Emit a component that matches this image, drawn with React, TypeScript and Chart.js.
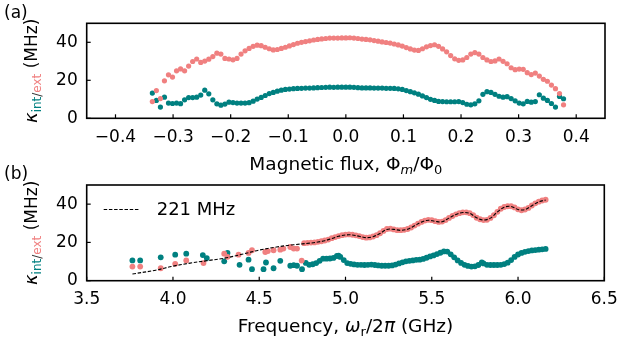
import React, { useEffect, useRef } from 'react';
import { Chart, registerables } from 'chart.js';
Chart.register(...registerables);

const TEAL = '#008080';
const CORAL = '#F08080';
const FONT = '"DejaVu Sans", sans-serif';

const fluxTicks = [-0.4, -0.3, -0.2, -0.1, 0.0, 0.1, 0.2, 0.3, 0.4];
const freqTicks = [3.5, 4.0, 4.5, 5.0, 5.5, 6.0, 6.5];
const kappaTicks = [0, 20, 40];

// Panel (a): magnetic flux sweep
const flux = [
  -0.336, -0.329, -0.322, -0.315, -0.308, -0.301, -0.294, -0.287, -0.280, -0.273,
  -0.266, -0.259, -0.252, -0.245, -0.238, -0.231, -0.224, -0.217, -0.210, -0.203,
  -0.196, -0.189, -0.182, -0.175, -0.168, -0.161, -0.154, -0.147, -0.140, -0.133,
  -0.126, -0.119, -0.112, -0.105, -0.098, -0.091, -0.084, -0.077, -0.070, -0.063,
  -0.056, -0.049, -0.042, -0.035, -0.028, -0.021, -0.014, -0.007, 0.000, 0.007,
  0.014, 0.021, 0.028, 0.035, 0.042, 0.049, 0.056, 0.063, 0.070, 0.077,
  0.084, 0.091, 0.098, 0.105, 0.112, 0.119, 0.126, 0.133, 0.140, 0.147,
  0.154, 0.161, 0.168, 0.175, 0.182, 0.189, 0.196, 0.203, 0.210, 0.217,
  0.224, 0.231, 0.238, 0.245, 0.252, 0.259, 0.266, 0.273, 0.280, 0.287,
  0.294, 0.301, 0.308, 0.315, 0.322, 0.329, 0.336, 0.343, 0.350, 0.357,
  0.364, 0.371, 0.378,
];
const fluxKappaExt = [
  8.8, 14.6, 10.4, 19.7, 22.9, 21.7, 25.0, 26.0, 25.0, 27.5,
  29.9, 31.2, 29.4, 30.1, 31.1, 32.5, 34.3, 33.8, 31.5, 31.2,
  30.8, 31.5, 33.8, 35.5, 36.8, 37.9, 38.5, 38.2, 37.4, 36.6,
  36.0, 36.2, 36.8, 37.4, 38.1, 38.8, 39.5, 40.0, 40.4, 40.8,
  41.2, 41.5, 41.8, 42.0, 42.2, 42.2, 42.2, 42.3, 42.3, 42.4,
  42.2, 42.0, 41.7, 41.5, 41.3, 40.9, 40.6, 40.2, 39.9, 39.6,
  39.1, 38.6, 38.0, 37.2, 36.5, 35.9, 35.7, 36.6, 37.6, 38.3,
  38.7, 37.9, 36.5, 35.0, 33.0, 31.3, 30.5, 30.7, 32.0, 33.8,
  34.6, 33.8, 32.0, 30.7, 29.9, 30.2, 31.2, 30.0, 28.7, 26.6,
  25.6, 25.9, 25.8, 24.0, 23.0, 23.8, 22.2, 20.5, 19.5, 17.5,
  15.6, 13.0, 7.1,
];
const fluxKappaInt = [
  13.3, 9.4, 5.9, 11.1, 8.0, 7.8, 8.0, 7.7, 9.7, 10.9,
  10.9, 11.1, 12.2, 14.8, 12.9, 9.7, 7.6, 6.9, 7.5, 8.5,
  8.3, 8.0, 8.0, 8.0, 8.2, 9.0, 10.1, 11.0, 12.0, 13.0,
  13.6, 14.3, 14.8, 15.2, 15.4, 15.6, 15.7, 15.8, 15.9, 15.9,
  16.0, 16.1, 16.2, 16.3, 16.4, 16.3, 16.4, 16.4, 16.4, 16.4,
  16.3, 16.1, 16.0, 16.0, 16.0, 15.9, 15.9, 15.9, 15.8, 15.8,
  15.7, 15.5, 15.2, 14.6, 14.0, 13.4, 12.7, 11.8, 10.9, 10.0,
  9.4, 8.9, 8.8, 8.7, 8.7, 8.7, 8.8, 8.3, 7.4, 7.1,
  7.6, 9.2, 12.6, 14.0, 13.6, 12.6, 11.6, 11.1, 11.4, 10.4,
  9.2, 8.0, 7.6, 8.9, 8.5, 8.8, 12.4, 10.6, 9.4, 7.8,
  5.9, 11.5, 10.3,
];

// Panel (b): frequency dependence
const freqExt = [
  3.765, 3.81, 3.929, 4.013, 4.077, 4.177, 4.297, 4.316, 4.38, 4.438,
  4.458, 4.535, 4.55, 4.583, 4.622, 4.64, 4.68, 4.70, 4.719, 4.746,
  4.76, 4.78, 4.80, 4.82, 4.84, 4.86, 4.88, 4.90, 4.92, 4.94,
  4.96, 4.98, 5.00, 5.02, 5.04, 5.06, 5.08, 5.10, 5.12, 5.14,
  5.16, 5.18, 5.20, 5.22, 5.24, 5.26, 5.28, 5.30, 5.32, 5.34,
  5.36, 5.38, 5.40, 5.42, 5.44, 5.46, 5.48, 5.50, 5.52, 5.54,
  5.56, 5.58, 5.60, 5.62, 5.64, 5.66, 5.68, 5.70, 5.72, 5.74,
  5.76, 5.78, 5.80, 5.82, 5.84, 5.86, 5.88, 5.90, 5.92, 5.94,
  5.96, 5.98, 6.00, 6.02, 6.04, 6.06, 6.08, 6.10, 6.12, 6.14,
  6.16,
];
const freqKappaExt = [
  7.4, 7.4, 6.5, 8.8, 10.6, 9.2, 14.1, 12.5, 13.6, 14.5,
  15.9, 15.0, 15.5, 15.9, 16.2, 16.8, 17.6, 16.8, 16.8, 10.5,
  19.6, 19.8, 19.9, 20.0, 20.3, 20.6, 21.0, 21.5, 22.2, 22.8,
  23.3, 23.8, 24.1, 24.2, 24.0, 23.7, 23.3, 22.8, 22.5, 22.6,
  23.1, 23.8, 24.8, 26.0, 27.0, 27.2, 26.8, 26.4, 26.4, 26.6,
  27.0, 27.8, 28.8, 29.8, 30.7, 31.4, 31.8, 31.6, 31.1, 30.7,
  30.9, 31.7, 32.8, 33.8, 34.7, 35.3, 35.7, 35.7, 35.3, 34.3,
  32.9, 32.1, 31.7, 31.8, 32.8, 34.2, 36.0, 37.6, 38.5, 38.9,
  38.9, 38.3, 37.3, 36.8, 37.2, 38.0, 39.3, 40.4, 41.3, 41.9,
  42.3,
];
const freqInt = [
  3.765, 3.81, 3.929, 4.013, 4.077, 4.173, 4.196, 4.297, 4.316, 4.386,
  4.438, 4.458, 4.525, 4.539, 4.583, 4.622, 4.68, 4.70, 4.719, 4.748,
  4.77, 4.79, 4.81, 4.83, 4.85, 4.87, 4.89, 4.91, 4.93, 4.95,
  4.96, 4.97, 4.99, 5.01, 5.03, 5.05, 5.07, 5.09, 5.11, 5.13,
  5.15, 5.17, 5.19, 5.21, 5.23, 5.25, 5.27, 5.29, 5.31, 5.33,
  5.35, 5.37, 5.39, 5.41, 5.43, 5.45, 5.47, 5.49, 5.51, 5.53,
  5.55, 5.57, 5.59, 5.61, 5.63, 5.65, 5.67, 5.69, 5.71, 5.73,
  5.75, 5.77, 5.79, 5.80, 5.82, 5.84, 5.86, 5.88, 5.90, 5.92,
  5.94, 5.96, 5.98, 6.00, 6.02, 6.04, 6.06, 6.08, 6.10, 6.12,
  6.14, 6.16,
];
const freqKappaInt = [
  10.6, 10.6, 12.2, 13.6, 14.1, 13.4, 11.8, 10.1, 14.5, 8.3,
  11.0, 6.0, 6.0, 9.5, 6.5, 10.4, 7.8, 8.1, 7.8, 6.0,
  9.3, 8.3, 8.6, 9.2, 10.4, 11.5, 11.5, 11.6, 11.9, 12.9,
  13.1, 12.4, 10.8, 9.2, 8.8, 8.5, 8.3, 8.3, 8.2, 8.3,
  8.4, 8.2, 8.0, 7.8, 7.8, 7.8, 8.0, 8.4, 9.0, 9.6,
  10.1, 10.4, 10.6, 10.9, 11.0, 11.4, 12.0, 12.7, 13.2, 13.9,
  14.6, 15.3, 15.2, 13.8, 12.2, 10.6, 9.3, 8.3, 7.7, 7.4,
  7.5, 8.2, 9.6, 9.0, 8.3, 8.2, 8.2, 8.2, 8.3, 8.7,
  9.4, 10.8, 12.4, 13.7, 14.5, 15.1, 15.5, 15.8, 16.0, 16.2,
  16.4, 16.6,
];
const fitLabel = '221 MHz';
const freqFit = [
  3.765, 3.90, 4.00, 4.10, 4.20, 4.30, 4.40, 4.50, 4.60, 4.70,
  4.80, 4.84, 4.88, 4.92, 4.96, 5.00, 5.04, 5.08, 5.12, 5.16,
  5.20, 5.24, 5.28, 5.32, 5.36, 5.40, 5.44, 5.48, 5.52, 5.56,
  5.60, 5.64, 5.68, 5.72, 5.76, 5.80, 5.84, 5.88, 5.92, 5.96,
  6.00, 6.04, 6.08, 6.12, 6.16,
];
const kappaFit = [
  3.5, 5.5, 7.6, 9.2, 10.5, 11.8, 13.8, 16.0, 17.6, 18.8,
  19.7, 20.2, 20.9, 22.0, 23.2, 23.9, 23.9, 23.2, 22.5, 23.0,
  24.7, 26.8, 26.8, 26.3, 26.9, 28.7, 30.6, 31.6, 31.0, 30.8,
  32.7, 34.6, 35.6, 35.2, 32.9, 31.7, 32.7, 35.9, 38.4, 38.8,
  37.2, 37.1, 39.2, 41.2, 42.2,
];

type Seg = { t: string; size: number; italic?: boolean; color?: string; dy?: number };
const segFont = (s: Seg) => `${s.italic ? 'italic ' : ''}${s.size}px ${FONT}`;
function measureSegs(ctx: CanvasRenderingContext2D, segs: Seg[]) {
  let w = 0;
  segs.forEach((s) => { ctx.font = segFont(s); w += ctx.measureText(s.t).width; });
  return w;
}
function drawSegs(ctx: CanvasRenderingContext2D, segs: Seg[], x: number, y: number) {
  let cx = x;
  segs.forEach((s) => {
    ctx.font = segFont(s);
    ctx.fillStyle = s.color || '#000';
    ctx.fillText(s.t, cx, y + (s.dy || 0));
    cx += ctx.measureText(s.t).width;
  });
}

const FS = 17;
const TFS = 18.5;
const SUB = 12;
const TSUB = 13;

const yTitleSegs: Seg[] = [
  { t: 'κ', size: FS + 1, italic: true },
  { t: 'int', size: SUB, color: TEAL, dy: 3.5 },
  { t: '/', size: SUB, color: '#333', dy: 3.5 },
  { t: 'ext', size: SUB, color: CORAL, dy: 3.5 },
  { t: ' (MHz)', size: FS },
];
const fluxTitleSegs: Seg[] = [
  { t: 'Magnetic flux, Φ', size: TFS },
  { t: 'm', size: TSUB, italic: true, dy: 3.8 },
  { t: '/Φ', size: TFS },
  { t: '0', size: TSUB, dy: 3.8 },
];
const freqTitleSegs: Seg[] = [
  { t: 'Frequency, ', size: TFS },
  { t: 'ω', size: TFS, italic: true },
  { t: 'r', size: TSUB, dy: 3.8 },
  { t: '/2', size: TFS },
  { t: 'π', size: TFS, italic: true },
  { t: ' (GHz)', size: TFS },
];

function makeDecor(panel: string, panelY: number, xTitle: Seg[], xTitleY: number, legend: boolean) {
  return {
    id: 'decor' + panel,
    afterDraw(chart: any) {
      const ctx: CanvasRenderingContext2D = chart.ctx;
      const a = chart.chartArea;
      ctx.save();
      // frame
      ctx.strokeStyle = '#000';
      ctx.lineWidth = 1.6;
      ctx.strokeRect(a.left, a.top, a.right - a.left, a.bottom - a.top);
      // inward ticks
      ctx.lineWidth = 1.2;
      const xs = chart.scales.x;
      xs.ticks.forEach((_: any, i: number) => {
        const px = xs.getPixelForTick(i);
        ctx.beginPath();
        ctx.moveTo(px, a.bottom);
        ctx.lineTo(px, a.bottom - 4);
        ctx.stroke();
      });
      const ys = chart.scales.y;
      ys.ticks.forEach((_: any, i: number) => {
        const py = ys.getPixelForTick(i);
        ctx.beginPath();
        ctx.moveTo(a.left, py);
        ctx.lineTo(a.left + 4, py);
        ctx.stroke();
      });
      ctx.textBaseline = 'alphabetic';
      // panel label
      ctx.font = `${FS}px ${FONT}`;
      ctx.fillStyle = '#000';
      ctx.fillText(panel, 4, panelY);
      // x title
      const wx = measureSegs(ctx, xTitle);
      drawSegs(ctx, xTitle, (a.left + a.right) / 2 - wx / 2, xTitleY);
      // y title
      const wy = measureSegs(ctx, yTitleSegs);
      ctx.save();
      ctx.translate(37, (a.top + a.bottom) / 2);
      ctx.rotate(-Math.PI / 2);
      drawSegs(ctx, yTitleSegs, -wy / 2, 0);
      ctx.restore();
      if (legend) {
        const ds = chart.data.datasets[0];
        const ly = a.top + 24.5;
        ctx.strokeStyle = '#000';
        ctx.lineWidth = 1.1;
        ctx.setLineDash([3.5, 1.7]);
        ctx.beginPath();
        ctx.moveTo(a.left + 17, ly);
        ctx.lineTo(a.left + 53, ly);
        ctx.stroke();
        ctx.setLineDash([]);
        ctx.font = `${FS + 1}px ${FONT}`;
        ctx.fillStyle = '#000';
        ctx.textBaseline = 'middle';
        ctx.fillText(ds.label, a.left + 70, ly + 1);
      }
      ctx.restore();
    },
  };
}

function scaleOpts(ticksArr: number[], min: number, max: number, fmt: (v: number) => string, axis: 'x' | 'y', size: number) {
  return {
    type: 'linear',
    min,
    max,
    grid: { display: false, drawTicks: false },
    border: { display: false },
    afterBuildTicks: (s: any) => { s.ticks = ticksArr.map((v) => ({ value: v })); },
    afterFit: (s: any) => {
      if (axis === 'y') { s.width = size; s.paddingTop = 0; s.paddingBottom = 0; }
      else { s.height = size; s.paddingLeft = 0; s.paddingRight = 0; }
    },
    ticks: {
      autoSkip: false,
      maxRotation: 0,
      minRotation: 0,
      padding: 9,
      color: '#000',
      font: { family: FONT, size: FS },
      callback: (v: any) => fmt(Number(v)),
    },
  };
}

const fmtX = (v: number) => v.toFixed(1).replace('-', '\u2212');
const fmtY = (v: number) => String(Math.round(v));

const pts = (xs: number[], ys: number[]) => xs.map((x, i) => ({ x, y: ys[i] }));

export default function App() {
  const ref1 = useRef<HTMLCanvasElement>(null);
  const ref2 = useRef<HTMLCanvasElement>(null);

  useEffect(() => {
    const dotA = { pointRadius: 2.6, pointBorderWidth: 0, showLine: false };
    const dotB = { pointRadius: 2.9, pointBorderWidth: 0, showLine: false };
    const c1 = new Chart(ref1.current!, {
      type: 'scatter',
      data: {
        datasets: [
          { label: 'ext', data: pts(flux, fluxKappaExt), backgroundColor: CORAL, borderColor: CORAL, order: 1, ...dotA },
          { label: 'int', data: pts(flux, fluxKappaInt), backgroundColor: TEAL, borderColor: TEAL, order: 2, ...dotA },
        ],
      },
      options: {
        animation: false,
        responsive: false,
        devicePixelRatio: 1,
        layout: { padding: { left: 0, right: 14, top: 23.3, bottom: 175 } },
        plugins: { legend: { display: false }, tooltip: { enabled: false } },
        scales: {
          x: scaleOpts(fluxTicks, -0.45, 0.45, fmtX, 'x', 350 - 175 - 118.3),
          y: scaleOpts(kappaTicks, 0, 50, fmtY, 'y', 86.7),
        } as any,
      },
      plugins: [makeDecor('(a)', 18, fluxTitleSegs, 170, false)],
    } as any);

    const c2 = new Chart(ref2.current!, {
      type: 'scatter',
      data: {
        datasets: [
          { label: fitLabel, data: pts(freqFit, kappaFit), borderColor: '#000', borderWidth: 1.1, borderDash: [3.5, 1.7], pointRadius: 0, showLine: true, tension: 0.35, order: 0 },
          { label: 'ext', data: pts(freqExt, freqKappaExt), backgroundColor: CORAL, borderColor: CORAL, order: 1, ...dotB },
          { label: 'int', data: pts(freqInt, freqKappaInt), backgroundColor: TEAL, borderColor: TEAL, order: 2, ...dotB },
        ],
      },
      options: {
        animation: false,
        responsive: false,
        devicePixelRatio: 1,
        layout: { padding: { left: 0, right: 14.7, top: 185, bottom: 0 } },
        plugins: { legend: { display: false }, tooltip: { enabled: false } },
        scales: {
          x: scaleOpts(freqTicks, 3.5, 6.5, fmtX, 'x', 350 - 280.7),
          y: scaleOpts(kappaTicks, 0, 50, fmtY, 'y', 86.7),
        } as any,
      },
      plugins: [makeDecor('(b)', 179, freqTitleSegs, 332, true)],
    } as any);

    return () => { c1.destroy(); c2.destroy(); };
  }, []);

  const cs: React.CSSProperties = { position: 'absolute', left: 0, top: 0 };
  return (
    <div style={{ position: 'fixed', left: 0, top: 0, width: 619, height: 350, background: '#fff' }}>
      <canvas ref={ref1} width={619} height={350} style={cs} />
      <canvas ref={ref2} width={619} height={350} style={cs} />
    </div>
  );
}
